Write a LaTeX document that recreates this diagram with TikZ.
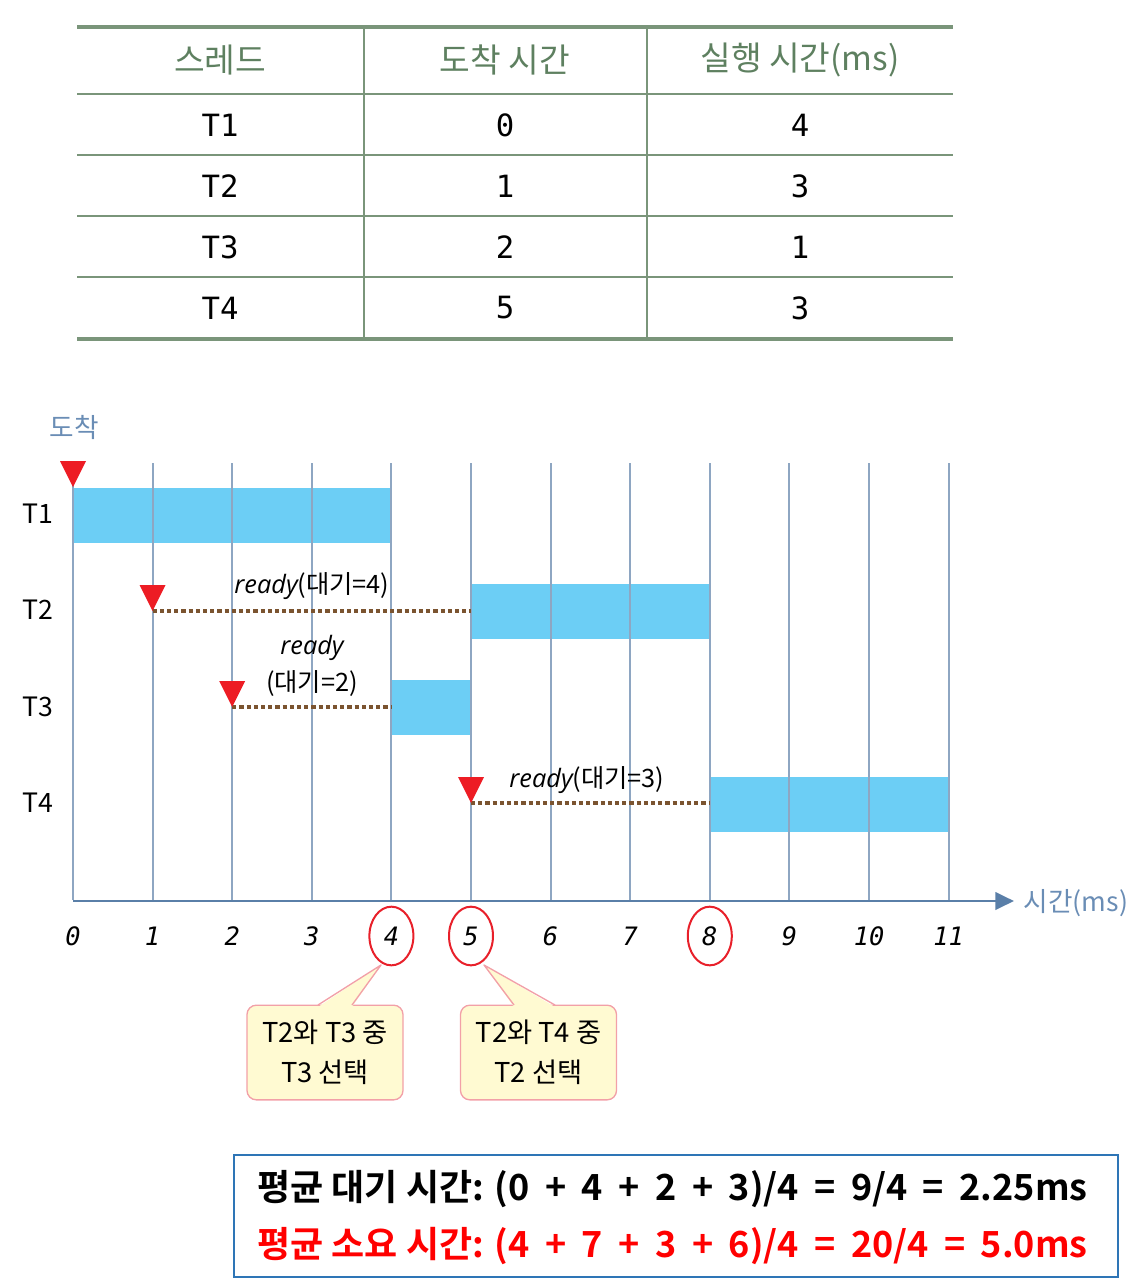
\documentclass[tikz,border=0pt]{standalone}
\usepackage{fontspec}
\setmainfont{Noto Sans CJK KR}
\newfontfamily\monof{DejaVu Sans Mono}
\newfontfamily\itf{Open Sans}
\newfontfamily\boldkr{Noto Sans CJK KR Bold}
\usetikzlibrary{shapes.geometric,arrows.meta,calc}
\definecolor{tabline}{HTML}{7A957A}
\definecolor{tabhead}{HTML}{5E8060}
\definecolor{gridc}{HTML}{8EA6C2}
\definecolor{axisc}{HTML}{5A7FA8}
\definecolor{labc}{HTML}{6A8DB5}
\definecolor{barc}{HTML}{6CCEF5}
\definecolor{trired}{HTML}{ED1C24}
\definecolor{waitc}{HTML}{7B5430}
\definecolor{circc}{HTML}{E8202A}
\definecolor{callfill}{HTML}{FFFAD2}
\definecolor{callline}{HTML}{F2A0A8}
\definecolor{boxc}{HTML}{2E75B6}
\definecolor{redtxt}{HTML}{FF0000}
\newcommand\wsp{\hspace{0.43em}}
\begin{document}
\begin{tikzpicture}[x=0.75pt,y=-0.75pt,
  tabthick/.style={draw=tabline,line width=3pt},
  tabthin/.style={draw=tabline,line width=1.2pt},
  headtxt/.style={text=tabhead,font=\fontsize{25}{28}\selectfont,inner sep=0pt},
  celltxt/.style={font=\monof\fontsize{23}{26}\selectfont,inner sep=0pt},
  gridl/.style={draw=gridc,line width=1.5pt},
  bar/.style={fill=barc},
  rowlab/.style={font=\fontsize{20}{24}\selectfont,inner sep=0pt},
  ticklab/.style={font=\monof\itshape\fontsize{19}{22}\selectfont,inner sep=0pt},
  hit/.style={draw=circc,line width=1.5pt,ellipse,minimum width=33pt,minimum height=44pt},
  arr/.style={fill=trired},
  wait/.style={draw=waitc,line width=3.2pt,dash pattern=on 3.2pt off 2.2pt},
  readytxt/.style={font=\fontsize{19}{22}\selectfont,inner sep=0pt,align=center},
  callbox/.style={fill=callfill,draw=callline,line width=1pt,rounded corners=7pt,minimum width=117pt,minimum height=71pt,align=center,font=\fontsize{20.5}{30}\selectfont},
  sumbox/.style={draw=boxc,line width=1.5pt,minimum width=663pt,minimum height=91pt,inner sep=0pt},
  sumtxt/.style={font=\boldkr\fontsize{27}{30}\selectfont,inner sep=0pt,anchor=west}]
\useasboundingbox (0,0) rectangle (1129,1284);
% ---------- table ----------
\draw[tabthick] (77,27) -- (953,27);
\draw[tabthin] (77,94) -- (953,94);
\draw[tabthin] (77,155) -- (953,155);
\draw[tabthin] (77,216) -- (953,216);
\draw[tabthin] (77,277) -- (953,277);
\draw[tabthick] (77,339) -- (953,339);
\draw[tabthin] (364,27) -- (364,339);
\draw[tabthin] (647,27) -- (647,339);
\node[headtxt] (h1) at (220,60) {스레드};
\node[headtxt] (h2) at (505,60) {도착 시간};
\node[headtxt] (h3) at (800,60) {실행 시간(ms)};
\node[celltxt] (r1a) at (220,125) {T1};
\node[celltxt] (r1b) at (505,125) {0};
\node[celltxt] (r1c) at (800,125) {4};
\node[celltxt] (r2a) at (220,186) {T2};
\node[celltxt] (r2b) at (505,186) {1};
\node[celltxt] (r2c) at (800,186) {3};
\node[celltxt] (r3a) at (220,247) {T3};
\node[celltxt] (r3b) at (505,247) {2};
\node[celltxt] (r3c) at (800,247) {1};
\node[celltxt] (r4a) at (220,308) {T4};
\node[celltxt] (r4b) at (505,308) {5};
\node[celltxt] (r4c) at (800,308) {3};
% ---------- chart ----------
\fill[bar] (73,488) rectangle (391.4,543);
\fill[bar] (471,584) rectangle (709.8,639);
\fill[bar] (391.4,680) rectangle (471,735);
\fill[bar] (709.8,777) rectangle (949,832);
\foreach \i in {0,...,11} \draw[gridl] ({73+\i*79.6},463) -- ({73+\i*79.6},900);
\coordinate (ax0) at (73,901);
\coordinate (ax1) at (1014,901);
\draw[draw=axisc,line width=2.2pt,-{Triangle[length=14pt,width=13pt]}] (ax0) -- (ax1);
\node[text=labc,font=\fontsize{20}{24}\selectfont,inner sep=0pt] (axl) at (1076,903) {시간(ms)};
\node[text=labc,font=\fontsize{20}{24}\selectfont,inner sep=0pt] (arrl) at (74,427) {도착};
\node[rowlab] (l1) at (38,514) {T1};
\node[rowlab] (l2) at (38,610) {T2};
\node[rowlab] (l3) at (38,707) {T3};
\node[rowlab] (l4) at (38,803) {T4};
% tick labels
\foreach \i in {0,1,2,3,6,7,9,10,11} \node[ticklab] (t\i) at ({73+\i*79.6},936) {\i};
\node[ticklab,hit] (t4) at (391.4,936) {4};
\node[ticklab,hit] (t5) at (471,936) {5};
\node[ticklab,hit] (t8) at (709.8,936) {8};
% waiting lines
\coordinate (w2a) at (152.6,611); \coordinate (w2b) at (471,611);
\coordinate (w3a) at (232.2,707); \coordinate (w3b) at (391.4,707);
\coordinate (w4a) at (471,803); \coordinate (w4b) at (709.8,803);
\draw[wait] (w2a) -- (w2b);
\draw[wait] (w3a) -- (w3b);
\draw[wait] (w4a) -- (w4b);
% arrival triangles
\fill[arr] (60,461) -- (86,461) -- (73,487) -- cycle;
\fill[arr] (139.6,585) -- (165.6,585) -- (152.6,611) -- cycle;
\fill[arr] (219.2,681) -- (245.2,681) -- (232.2,707) -- cycle;
\fill[arr] (458,777) -- (484,777) -- (471,803) -- cycle;
% ready labels
\node[readytxt] (rd2) at (312,586) {{\itf\itshape ready}(대기=4)};
\node[readytxt] (rd3a) at (312,648) {{\itf\itshape ready}};
\node[readytxt] (rd3b) at (312,683) {(대기=2)};
\node[readytxt] (rd4) at (587,780) {{\itf\itshape ready}(대기=3)};
% ---------- callouts ----------
\node[callbox] (cb1) at (325,1052.5) {T2와 T3 중\\T3 선택};
\node[callbox] (cb2) at (538.5,1052.5) {T2와 T4 중\\T2 선택};
\coordinate (p1a) at (318,1005); \coordinate (p1b) at (352,1005); \coordinate (p1t) at (381,965);
\coordinate (p2a) at (514,1005); \coordinate (p2b) at (555,1005); \coordinate (p2t) at (484,965);
\fill[callfill] ($(p1a)+(0,2)$) -- (p1t) -- ($(p1b)+(0,2)$) -- cycle;
\draw[callline,line width=1pt,line join=round] (p1a) -- (p1t) -- (p1b);
\fill[callfill] ($(p2a)+(0,2)$) -- (p2t) -- ($(p2b)+(0,2)$) -- cycle;
\draw[callline,line width=1pt,line join=round] (p2a) -- (p2t) -- (p2b);
% ---------- summary box ----------
\node[sumbox] (sb) at (675.5,1216) {};
\node[sumtxt] (s1) at (257,1189) {평균 대기 시간: (0\wsp+\wsp4\wsp+\wsp2\wsp+\wsp3)/4\wsp=\wsp9/4\wsp=\wsp2.25ms};
\node[sumtxt,text=redtxt] (s2) at (257,1246) {평균 소요 시간: (4\wsp+\wsp7\wsp+\wsp3\wsp+\wsp6)/4\wsp=\wsp20/4\wsp=\wsp5.0ms};
\end{tikzpicture}
\end{document}
